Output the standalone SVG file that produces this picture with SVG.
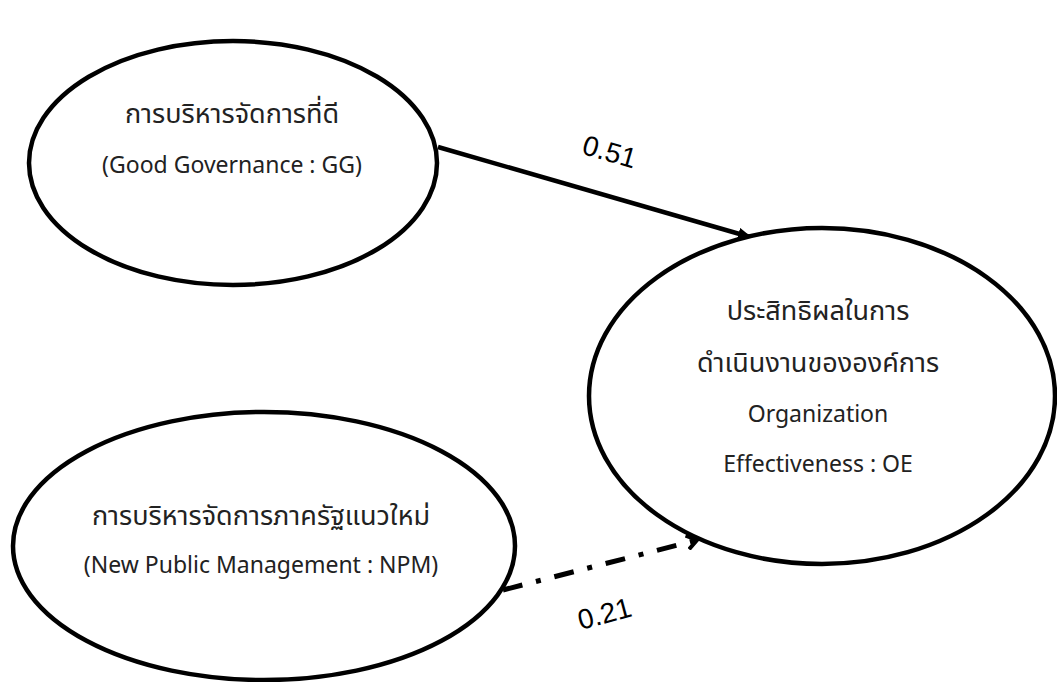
<svg xmlns="http://www.w3.org/2000/svg" width="1057" height="682" viewBox="0 0 1057 682">
<style>
.node{fill:#fff;stroke:#000;stroke-width:4.5}
.t{font-family:"Noto Sans Thai","Noto Sans","DejaVu Sans",sans-serif;font-size:23px;fill:#222;text-anchor:middle}
.th{font-size:27px}
.lbl{font-family:"Liberation Sans",Arial,sans-serif;font-size:28px;fill:#000;text-anchor:middle}
.c{stroke:#000;fill:none}
</style>
<defs>
<marker id="solid" markerWidth="14" markerHeight="12" refX="12" refY="6" orient="auto" markerUnits="userSpaceOnUse" viewBox="0 0 14 12">
<path d="M0,0 L14,6 L0,12 z" fill="#000"/>
</marker>
<marker id="open" markerWidth="14" markerHeight="16" refX="11" refY="8" orient="auto" markerUnits="userSpaceOnUse" viewBox="0 0 14 16">
<path d="M1,1 L11,8 L1,15" fill="none" stroke="#000" stroke-width="4"/>
</marker>
</defs>
<g id="connectors">
<line class="c" x1="438" y1="147" x2="750" y2="237" stroke-width="4.5" marker-end="url(#solid)"/>
<line class="c" x1="503" y1="590" x2="697" y2="540" stroke-width="5" stroke-dasharray="20 14 5 14" marker-end="url(#open)"/>
<text class="lbl" transform="translate(607,161) rotate(16)">0.51</text>
<text class="lbl" transform="translate(607,623) rotate(-15)">0.21</text>
</g>
<g id="node-gg">
<ellipse class="node" cx="233" cy="163" rx="204" ry="122"/>
<text class="t th" x="232" y="123">การบริหารจัดการที่ดี</text>
<text class="t" x="232" y="173">(Good Governance : GG)</text>
</g>
<g id="node-oe">
<ellipse class="node" cx="822" cy="396" rx="233" ry="168"/>
<text class="t th" x="818" y="320">ประสิทธิผลในการ</text>
<text class="t th" x="818" y="372">ดำเนินงานขององค์การ</text>
<text class="t" x="818" y="422">Organization</text>
<text class="t" x="818" y="472">Effectiveness : OE</text>
</g>
<g id="node-npm">
<ellipse class="node" cx="264" cy="546" rx="251" ry="134"/>
<text class="t th" x="261" y="525">การบริหารจัดการภาครัฐแนวใหม่</text>
<text class="t" x="261" y="573">(New Public Management : NPM)</text>
</g>
</svg>
